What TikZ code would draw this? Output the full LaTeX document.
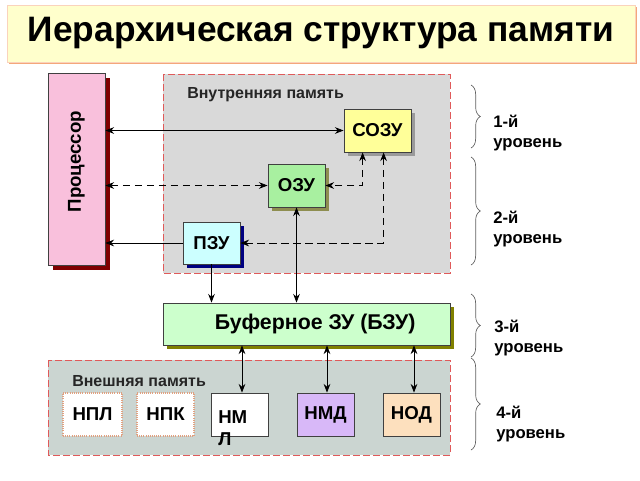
\documentclass[tikz,border=0pt]{standalone}
\usepackage{fontspec}
\setmainfont{Liberation Sans}
\usetikzlibrary{arrows.meta,decorations.pathreplacing,shadows,calc}
\definecolor{titlefill}{HTML}{FFFFCC}
\definecolor{titleshadow}{HTML}{F4A77A}
\definecolor{procfill}{HTML}{F9C0DC}
\definecolor{procshadow}{HTML}{800000}
\definecolor{innerfill}{HTML}{D9D9D9}
\definecolor{regionred}{HTML}{E05A5A}
\definecolor{sozufill}{HTML}{FFFF99}
\definecolor{sozushadow}{HTML}{9A9A9A}
\definecolor{ozufill}{HTML}{A8F0A0}
\definecolor{ozushadow}{HTML}{8E8E50}
\definecolor{pzufill}{HTML}{CCFFFF}
\definecolor{pzushadow}{HTML}{000080}
\definecolor{bzufill}{HTML}{CCFFCC}
\definecolor{bzushadow}{HTML}{808000}
\definecolor{outerfill}{HTML}{CBD5D1}
\definecolor{dotorange}{HTML}{E0A080}
\definecolor{nmdfill}{HTML}{D8B8F8}
\definecolor{nodfill}{HTML}{FDE0BE}
\definecolor{bracegray}{HTML}{606060}
\begin{document}
\begin{tikzpicture}[x=0.75pt,y=-0.75pt,
  box/.style={draw=black!75,line width=0.6pt,font=\bfseries\fontsize{14}{16}\selectfont,inner sep=0pt},
  region/.style={draw=regionred,dash pattern=on 5pt off 2.5pt,line width=0.7pt},
  conn/.style={line width=0.6pt,black},
  dsh/.style={dash pattern=on 5.5pt off 3.5pt},
  arr/.style={conn,-{Stealth[length=6.5pt,width=5pt]}},
  darr/.style={conn,{Stealth[length=6.5pt,width=5pt]}-{Stealth[length=6.5pt,width=5pt]}},
  brc/.style={draw=bracegray,line width=0.5pt,decorate,decoration={brace,amplitude=7pt}},
  lvl/.style={font=\bfseries\fontsize{12.5}{15}\selectfont,align=left,anchor=west,inner sep=0pt},
  lbl/.style={font=\bfseries\fontsize{12}{14}\selectfont,inner sep=0pt,anchor=west,text=black!85}]
\useasboundingbox (0,0) rectangle (640,480);
% title
\node[draw=titleshadow!50,line width=0.4pt,fill=titlefill,minimum width=471pt,minimum height=42.75pt,inner sep=0pt,
  general shadow={fill=titleshadow,shadow xshift=1.5pt,shadow yshift=-1.5pt},
  font=\bfseries\fontsize{26.5}{30}\selectfont] (title) at (321,33.5) {Иерархическая структура памяти};
% regions
\draw[region,fill=innerfill] (163,74) rectangle (450,273);
\draw[region,fill=outerfill] (48,360) rectangle (450,455);
\node[lbl] (inlbl) at (187,95) {Внутренняя память};
\node[lbl] (outlbl) at (72,381) {Внешняя память};
% processor
\node[box,fill=procfill,minimum width=42.75pt,minimum height=144pt,
  general shadow={fill=procshadow,shadow xshift=3.75pt,shadow yshift=-3.75pt}] (proc) at (76.5,169)
  {\rotatebox{90}{\hspace*{11pt}Процессор}};
% internal memory
\node[box,fill=sozufill,minimum width=50.25pt,minimum height=32.25pt,
  general shadow={fill=sozushadow,shadow xshift=3pt,shadow yshift=-3pt}] (sozu) at (377.5,130.5) {СОЗУ};
\node[box,fill=ozufill,minimum width=42.75pt,minimum height=32.25pt,
  general shadow={fill=ozushadow,shadow xshift=3pt,shadow yshift=-3pt}] (ozu) at (296.5,185.5) {ОЗУ};
\node[box,fill=pzufill,minimum width=42.75pt,minimum height=31.5pt,
  general shadow={fill=pzushadow,shadow xshift=3pt,shadow yshift=-3pt}] (pzu) at (211.5,243) {ПЗУ};
% buffer
\node[box,fill=bzufill,minimum width=215.25pt,minimum height=31.5pt,font=\bfseries\fontsize{16}{18}\selectfont,
  general shadow={fill=bzushadow,shadow xshift=3pt,shadow yshift=-3pt}] (bzu) at (306.5,324) {\hspace*{13pt}Буферное ЗУ (БЗУ)};
% external memory
\node[box,draw=dotorange,densely dotted,line width=1pt,fill=white,minimum width=44.25pt,minimum height=32.25pt] (npl) at (92.5,414.5) {НПЛ};
\node[box,draw=dotorange,densely dotted,line width=1pt,fill=white,minimum width=42.75pt,minimum height=32.25pt] (npk) at (165.5,414.5) {НПК};
\node[box,fill=white,minimum width=42.75pt,minimum height=32.25pt] (nml) at (239.5,414.5) {};
\node[font=\bfseries\fontsize{14}{16.5}\selectfont,align=left,anchor=north west,inner sep=0pt] (nmltxt) at (218,410) {НМ\\Л};
\node[box,fill=nmdfill,minimum width=42.75pt,minimum height=32.25pt] (nmd) at (325.5,414.5) {НМД};
\node[box,fill=nodfill,minimum width=42.75pt,minimum height=32.25pt] (nod) at (411.5,414.5) {НОД};
% connectors
\draw[darr] (proc.east |- sozu.west) -- (sozu.west);
\draw[darr,dsh] (proc.east |- ozu.west) -- (ozu.west);
\draw[arr] (pzu.west) -- (proc.east |- pzu.west);
\coordinate (s1) at ($(sozu.south west)+(19,0)$);
\coordinate (s2) at ($(sozu.south west)+(40,0)$);
\draw[darr,dsh] (s1) |- (ozu.east);
\draw[darr,dsh] (s2) |- (pzu.east);
\draw[arr] (pzu.south) -- (pzu.south |- bzu.north);
\draw[darr] (ozu.south) -- (ozu.south |- bzu.north);
\draw[darr] (bzu.south -| nml.north) ++(2.5,0) coordinate (b1) -- (b1 |- nml.north);
\draw[darr] (bzu.south -| nmd.north) ++(1.5,0) coordinate (b2) -- (b2 |- nmd.north);
\draw[darr] (bzu.south -| nod.north) ++(2.5,0) coordinate (b3) -- (b3 |- nod.north);
% braces and levels
\draw[brc] (471,85) -- (471,148);
\draw[brc] (471,157) -- (471,265);
\draw[brc] (471,294) -- (471,357);
\draw[brc] (471,358) -- (471,450);
\node[lvl] (l1) at (493,133) {1-й\\уровень};
\node[lvl] (l2) at (493,229) {2-й\\уровень};
\node[lvl] (l3) at (494,338) {3-й\\уровень};
\node[lvl] (l4) at (496,424) {4-й\\уровень};
\end{tikzpicture}
\end{document}
